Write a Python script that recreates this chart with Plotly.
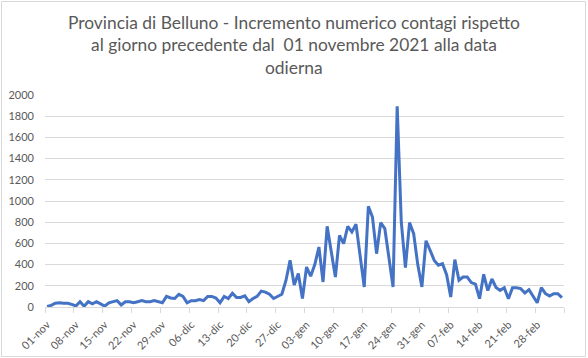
import pandas as pd
import plotly.graph_objects as go

start_date = "2021-11-01"
values = [
    5, 15, 35, 40, 35, 35, 25, 10, 50, 8,
    50, 30, 50, 25, 8, 40, 50, 60, 20, 50,
    50, 40, 50, 60, 50, 50, 60, 50, 40, 100,
    85, 80, 120, 100, 40, 60, 60, 70, 60, 100,
    100, 85, 40, 100, 80, 130, 90, 90, 105, 50,
    80, 100, 150, 140, 120, 80, 100, 120, 250, 440,
    207, 315, 80, 377, 290, 400, 566, 236, 761, 520,
    283, 676, 598, 761, 708, 780, 480, 189, 950, 849,
    503, 796, 739, 472, 189, 1893, 800, 371, 796, 692,
    400, 189, 625, 535, 440, 395, 409, 305, 94, 447,
    252, 283, 283, 230, 215, 79, 308, 155, 264, 185,
    157, 182, 77, 182, 182, 173, 132, 164, 97, 40,
    182, 126, 104, 126, 126, 88,
]
tick_labels = ["01-nov", "08-nov", "15-nov", "22-nov", "29-nov", "06-dic",
               "13-dic", "20-dic", "27-dic", "03-gen", "10-gen", "17-gen",
               "24-gen", "31-gen", "07-feb", "14-feb", "21-feb", "28-feb"]
title_lines = ["Provincia di Belluno - Incremento numerico contagi rispetto",
               "al giorno precedente dal  01 novembre 2021 alla data",
               "odierna"]

dates = pd.date_range(start_date, periods=len(values), freq="D")
tick_dates = [dates[0] + pd.Timedelta(days=7 * k) for k in range(len(tick_labels))]
half = pd.Timedelta(hours=12)
boundaries = [d - half for d in tick_dates] + [dates[-1] + half]

GRID = "#d9d9d9"
TXT = "#595959"
FONT = "Lato"

# plot area in pixels: x 45..564, y 95..307
def px_x(x):
    return (x - 45) / 519

def px_y(y):
    return (307 - y) / 212

fig = go.Figure()
fig.add_trace(go.Scatter(x=dates, y=values, mode="lines",
                         line=dict(color="#4472C4", width=3)))

title_y = [22, 45, 67]
annotations = [dict(text=t, xref="paper", yref="paper", x=px_x(293.5), y=px_y(yy),
                    xanchor="center", yanchor="middle", showarrow=False,
                    font=dict(family=FONT, size=17.4, color=TXT))
               for t, yy in zip(title_lines, title_y)]

fig.update_layout(
    width=588, height=358,
    margin=dict(l=45, r=24, t=95, b=51, autoexpand=False),
    paper_bgcolor="white", plot_bgcolor="white",
    showlegend=False,
    font=dict(family=FONT, color=TXT, size=11),
    annotations=annotations,
    shapes=[dict(type="rect", xref="paper", yref="paper",
                 x0=px_x(1.5), x1=px_x(585.5),
                 y0=px_y(356.5), y1=px_y(1.5),
                 line=dict(color=GRID, width=1), fillcolor="rgba(0,0,0,0)",
                 layer="below")],
)
fig.update_xaxes(
    type="date",
    range=[dates[0] - half, dates[-1] + half],
    tickmode="array", tickvals=tick_dates, ticktext=tick_labels,
    tickangle=-45, ticks="", showgrid=False,
    showline=True, linecolor=GRID, linewidth=1,
    ticklabelstandoff=6,
    tickfont=dict(family=FONT, size=11, color=TXT),
    minor=dict(tickmode="array", tickvals=boundaries, ticks="outside",
               ticklen=5, tickcolor=GRID, showgrid=False),
)
fig.update_yaxes(
    range=[0, 2000], dtick=200, tick0=0,
    showgrid=True, gridcolor=GRID, gridwidth=1,
    zeroline=False, showline=False, ticks="",
    ticklabelstandoff=10,
    tickfont=dict(family=FONT, size=11, color=TXT),
)

fig.write_html("out.html",
               config={"displayModeBar": False},
               post_script="document.body.style.margin='0';"
                           "document.body.style.overflow='hidden';")
